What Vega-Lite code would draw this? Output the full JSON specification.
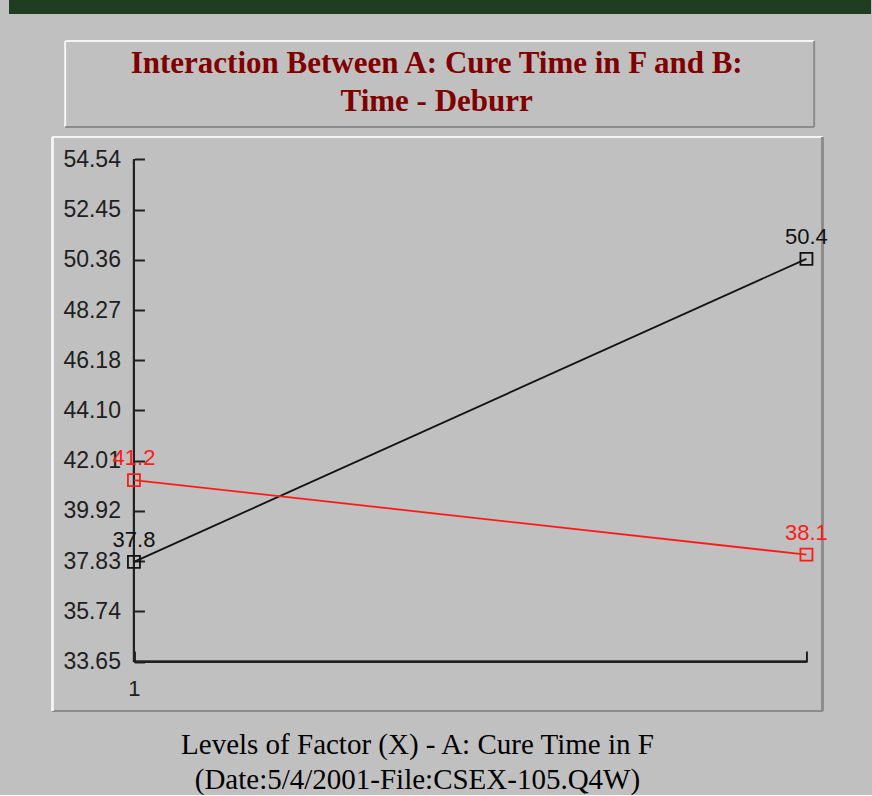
{
  "$schema": "https://vega.github.io/schema/vega-lite/v6.json",
  "background": "#c0c0c0",
  "padding": {"left": 9, "top": 0, "right": 1, "bottom": 0},
  "spacing": 26,
  "center": true,
  "config": {
    "view": {"stroke": null},
    "font": "Liberation Sans"
  },
  "vconcat": [
    {
      "width": 862,
      "height": 14,
      "view": {"fill": "#203d22", "stroke": null},
      "data": {"values": [{"band": 1}]},
      "mark": {"type": "rect", "color": "#203d22"},
      "encoding": {}
    },
    {
      "spacing": 8,
      "center": true,
      "vconcat": [
        {
          "width": 749,
          "height": 86,
          "data": {"values": [{"box": 1}]},
          "encoding": {},
          "layer": [
            {
              "mark": {"type": "rule", "color": "#f4f4f4", "strokeWidth": 2},
              "encoding": {"y": {"datum": 1, "type": "quantitative", "scale": {"domain": [0, 1], "nice": false}, "axis": null}}
            },
            {
              "mark": {"type": "rule", "color": "#f4f4f4", "strokeWidth": 2},
              "encoding": {"x": {"datum": 0, "type": "quantitative", "scale": {"domain": [0, 1], "nice": false}, "axis": null}}
            },
            {
              "mark": {"type": "rule", "color": "#8c8c8c", "strokeWidth": 2},
              "encoding": {"y": {"datum": 0, "type": "quantitative"}}
            },
            {
              "mark": {"type": "rule", "color": "#8c8c8c", "strokeWidth": 2},
              "encoding": {"x": {"datum": 1, "type": "quantitative"}}
            },
            {
              "mark": {
                "type": "text",
                "text": ["Interaction Between A: Cure Time in F and B:", "Time - Deburr"],
                "font": "Liberation Serif",
                "fontSize": 31,
                "fontWeight": "bold",
                "color": "#800000",
                "lineHeight": 38,
                "align": "center",
                "baseline": "middle"
              },
              "encoding": {
                "x": {"datum": 0.496, "type": "quantitative"},
                "y": {"datum": 0.735, "type": "quantitative"}
              }
            }
          ]
        },
        {
          "width": 770,
          "height": 574,
          "title": {
            "text": ["Levels of Factor (X) - A: Cure Time in F", "(Date:5/4/2001-File:CSEX-105.Q4W)"],
            "orient": "bottom",
            "anchor": "middle",
            "font": "Liberation Serif",
            "fontSize": 29,
            "fontWeight": "normal",
            "color": "#000000",
            "offset": 19,
            "dx": -20,
            "lineHeight": 35
          },
          "data": {
            "values": [
              {"level": 1, "mean": 37.8, "series": "B level 1"},
              {"level": 2, "mean": 50.4, "series": "B level 1"},
              {"level": 1, "mean": 41.2, "series": "B level 2"},
              {"level": 2, "mean": 38.1, "series": "B level 2"}
            ]
          },
          "layer": [
            {
              "mark": {"type": "rule", "color": "#8c8c8c", "strokeWidth": 2},
              "encoding": {"y": {"datum": 31.6, "type": "quantitative"}}
            },
            {
              "mark": {"type": "rule", "color": "#f4f4f4", "strokeWidth": 2},
              "encoding": {"y": {"datum": 55.467, "type": "quantitative"}}
            },
            {
              "mark": {"type": "rule", "color": "#f4f4f4", "strokeWidth": 2},
              "encoding": {"x": {"datum": 0.8788, "type": "quantitative"}}
            },
            {
              "mark": {"type": "rule", "color": "#8c8c8c", "strokeWidth": 2},
              "encoding": {"x": {"datum": 2.0238, "type": "quantitative"}}
            },
            {
              "mark": {"type": "rule", "color": "#202020", "strokeWidth": 2},
              "encoding": {
                "x": {"datum": 1, "type": "quantitative"},
                "y": {"datum": 33.65, "type": "quantitative"},
                "y2": {"datum": 54.54}
              }
            },
            {
              "mark": {"type": "rule", "color": "#202020", "strokeWidth": 2},
              "encoding": {
                "y": {"datum": 33.65, "type": "quantitative"},
                "x": {"datum": 1, "type": "quantitative"},
                "x2": {"datum": 2}
              }
            },
            {
              "mark": {"type": "line", "strokeWidth": 1.8},
              "encoding": {
                "x": {
                  "field": "level",
                  "type": "quantitative",
                  "scale": {"domain": [0.8788, 2.0238], "nice": false, "zero": false},
                  "axis": {
                    "orient": "bottom",
                    "offset": -49,
                    "domain": false,
                    "grid": false,
                    "title": null,
                    "values": [1, 2],
                    "labelExpr": "datum.value === 1 ? '1' : ''",
                    "tickSize": -11,
                    "tickWidth": 2,
                    "tickColor": "#202020",
                    "labelFont": "Liberation Sans",
                    "labelFontSize": 22,
                    "labelColor": "#202020",
                    "labelPadding": 27
                  }
                },
                "y": {
                  "field": "mean",
                  "type": "quantitative",
                  "scale": {"domain": [31.6, 55.467], "nice": false, "zero": false},
                  "axis": {
                    "orient": "left",
                    "offset": -82,
                    "domain": false,
                    "grid": false,
                    "title": null,
                    "values": [33.65, 35.74, 37.83, 39.92, 42.01, 44.1, 46.18, 48.27, 50.36, 52.45, 54.54],
                    "format": ".2f",
                    "tickSize": -10,
                    "tickWidth": 2,
                    "tickColor": "#202020",
                    "labelFont": "Liberation Sans",
                    "labelFontSize": 23,
                    "labelColor": "#202020",
                    "labelPadding": 24
                  }
                },
                "color": {
                  "field": "series",
                  "type": "nominal",
                  "scale": {"domain": ["B level 1", "B level 2"], "range": ["#111111", "#ff1a1a"]},
                  "legend": null
                }
              }
            },
            {
              "mark": {"type": "point", "shape": "square", "filled": false, "size": 144, "strokeWidth": 1.8, "opacity": 1},
              "encoding": {
                "x": {"field": "level", "type": "quantitative"},
                "y": {"field": "mean", "type": "quantitative"},
                "color": {"field": "series", "type": "nominal", "legend": null}
              }
            },
            {
              "mark": {"type": "text", "dy": -22, "align": "center", "baseline": "middle", "font": "Liberation Sans", "fontSize": 22},
              "encoding": {
                "x": {"field": "level", "type": "quantitative"},
                "y": {"field": "mean", "type": "quantitative"},
                "text": {"field": "mean", "type": "quantitative", "format": ".1f"},
                "color": {"field": "series", "type": "nominal", "legend": null}
              }
            }
          ]
        }
      ]
    }
  ]
}
